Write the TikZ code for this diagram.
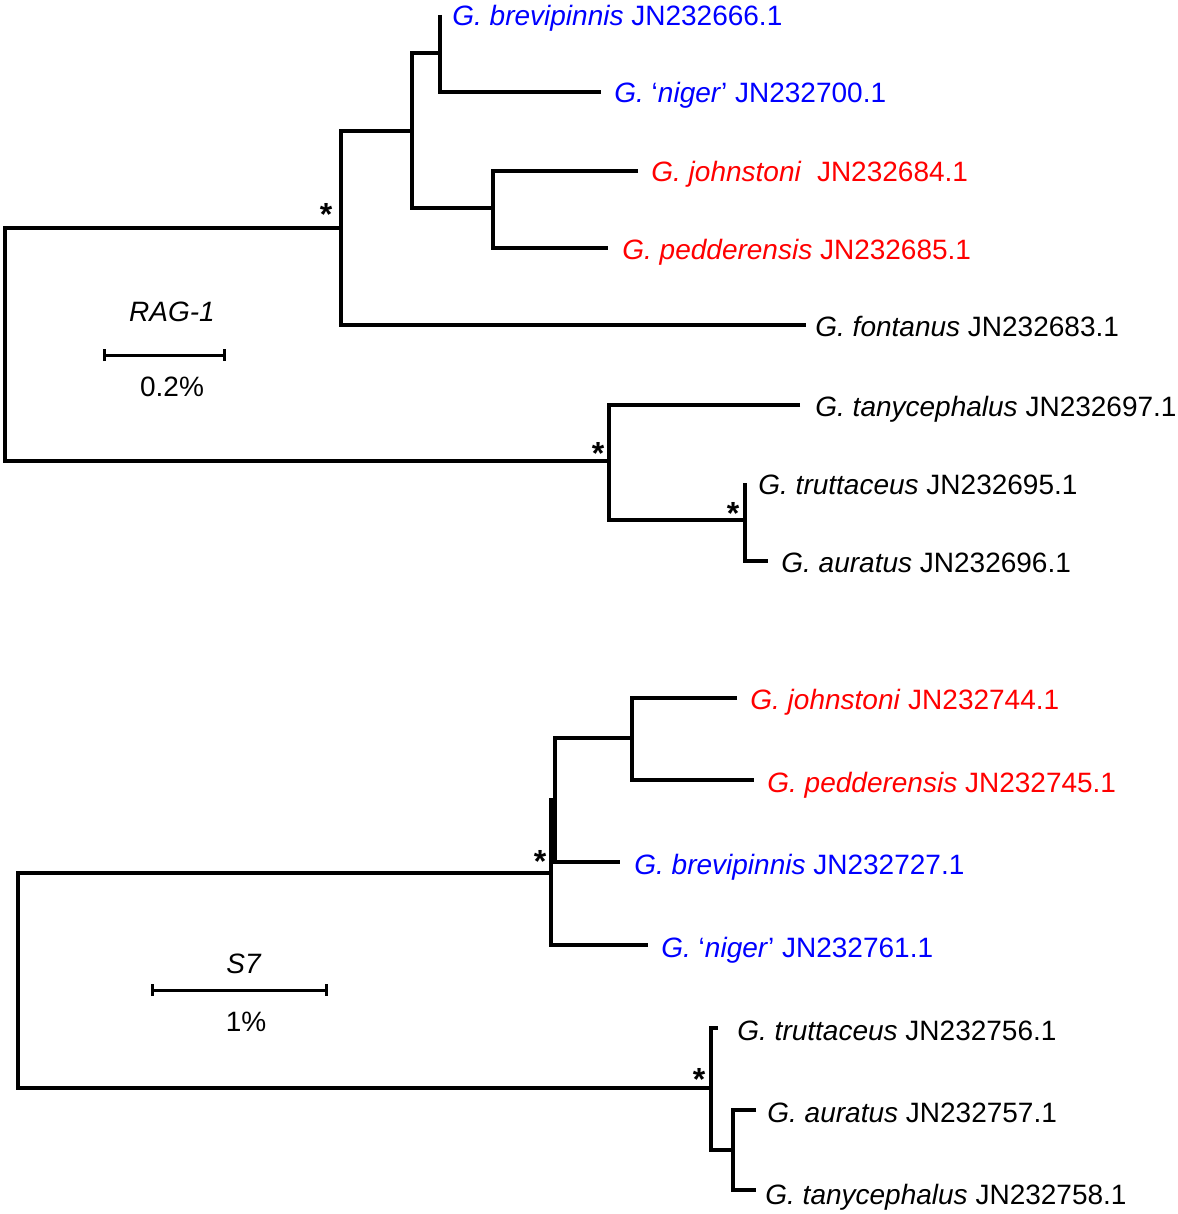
\documentclass[tikz,border=0pt]{standalone}
\usepackage{fontspec}
\setmainfont{Liberation Sans}
\usetikzlibrary{arrows.meta}
\usetikzlibrary{positioning}
\tikzset{branch/.style = {line width = 1.6pt}}
\tikzset{taxon/.style = {anchor = base west, inner sep = 0,
                         font = \fontsize{14}{17}\selectfont}}
\tikzset{label/.style = {inner sep = 0, font = \fontsize{14}{17}\selectfont}}
\tikzset{support/.style = {inner sep = 0, font = \fontsize{16}{19}\selectfont\bfseries}}
\tikzset{scalebar/.style = {line width = 1.5pt, {Bar[width=6pt]}-{Bar[width=6pt]}}}

\begin{document}
\begin{tikzpicture}[x=0.5pt, y=-0.5pt]
      \useasboundingbox (0, 0) rectangle (1177, 1214);

      % RAG-1
      \coordinate (ra) at (5, 228);
      \coordinate (rb) at (5, 461);
      \coordinate (na) at (341, 228);
      \coordinate (nb) at (412, 131);
      \coordinate (nc) at (440, 53);
      \coordinate (nd) at (493, 208);
      \coordinate (ne) at (609, 461);
      \coordinate (nf) at (745, 520);

      \coordinate (brev1) at (440, 15);
      \coordinate (nig1) at (601, 92);
      \coordinate (joh1) at (638, 171);
      \coordinate (ped1) at (608, 248);
      \coordinate (fon1) at (806, 325);
      \coordinate (tan1) at (800, 405);
      \coordinate (tru1) at (745, 483);
      \coordinate (aur1) at (768, 561);

      \draw [branch] (na) -- (ra) -- (rb) -- (ne);
      \draw [branch] (nb) -| (na) |- (fon1);
      \draw [branch] (nc) -| (nb) |- (nd);
      \draw [branch] (brev1) -- (nc) |- (nig1);
      \draw [branch] (joh1) -| (nd) |- (ped1);
      \draw [branch] (tan1) -| (ne) |- (nf);
      \draw [branch] (tru1) -- (nf) |- (aur1);

      \node [support] (sa) at (326, 214) {*};
      \node [support] (sb) at (598, 453) {*};
      \node [support] (sc) at (733, 513) {*};

      \node [taxon, text = blue] (tbrev1) at (452, 26) {\textit{G. brevipinnis} JN232666.1};
      \node [taxon, text = blue] (tnig1) at (614, 103) {\textit{G.} ‘\textit{niger}’ JN232700.1};
      \node [taxon, text = red] (tjoh1) at (651, 182) {\textit{G. johnstoni}\ \ JN232684.1};
      \node [taxon, text = red] (tped1) at (622, 259) {\textit{G. pedderensis} JN232685.1};
      \node [taxon] (tfon1) at (815, 336) {\textit{G. fontanus} JN232683.1};
      \node [taxon] (ttan1) at (815, 416) {\textit{G. tanycephalus} JN232697.1};
      \node [taxon] (ttru1) at (758, 494) {\textit{G. truttaceus} JN232695.1};
      \node [taxon] (taur1) at (781, 572) {\textit{G. auratus} JN232696.1};

      \node [label] (gene1) at (172, 312) {\textit{RAG-1}};
      \coordinate (bar1l) at (103, 355);
      \coordinate (bar1r) at (226, 355);
      \draw [scalebar] (bar1l) -- (bar1r);
      \node [label] (len1) at (172, 387) {0.2\%};

      % S7
      \coordinate (sa0) at (18, 873);
      \coordinate (sb0) at (18, 1088);
      \coordinate (ma) at (551, 873);
      \coordinate (mb) at (555, 800);
      \coordinate (mc) at (632, 738);
      \coordinate (md) at (711, 1088);
      \coordinate (me) at (733, 1150);

      \coordinate (joh2) at (737, 698);
      \coordinate (ped2) at (754, 780);
      \coordinate (brev2) at (620, 862);
      \coordinate (nig2) at (648, 945);
      \coordinate (tru2) at (718, 1028);
      \coordinate (aur2) at (756, 1110);
      \coordinate (tan2) at (756, 1190);

      \draw [branch] (ma) -- (sa0) -- (sb0) -- (md);
      \draw [branch] (mb) -| (ma) |- (nig2);
      \draw [branch] (mc) -| (mb) |- (brev2);
      \draw [branch] (joh2) -| (mc) |- (ped2);
      \draw [branch] (tru2) -| (md) |- (me);
      \draw [branch] (aur2) -| (me) |- (tan2);

      \node [support] (sd) at (540, 861) {*};
      \node [support] (se) at (699, 1079) {*};

      \node [taxon, text = red] (tjoh2) at (750, 709) {\textit{G. johnstoni} JN232744.1};
      \node [taxon, text = red] (tped2) at (767, 792) {\textit{G. pedderensis} JN232745.1};
      \node [taxon, text = blue] (tbrev2) at (634, 874) {\textit{G. brevipinnis} JN232727.1};
      \node [taxon, text = blue] (tnig2) at (661, 957) {\textit{G.} ‘\textit{niger}’ JN232761.1};
      \node [taxon] (ttru2) at (737, 1040) {\textit{G. truttaceus} JN232756.1};
      \node [taxon] (taur2) at (767, 1122) {\textit{G. auratus} JN232757.1};
      \node [taxon] (ttan2) at (765, 1204) {\textit{G. tanycephalus} JN232758.1};

      \node [label] (gene2) at (244, 964) {\textit{S7}};
      \coordinate (bar2l) at (151, 990);
      \coordinate (bar2r) at (328, 990);
      \draw [scalebar] (bar2l) -- (bar2r);
      \node [label] (len2) at (246, 1022) {1\%};
    \end{tikzpicture}
\end{document}
